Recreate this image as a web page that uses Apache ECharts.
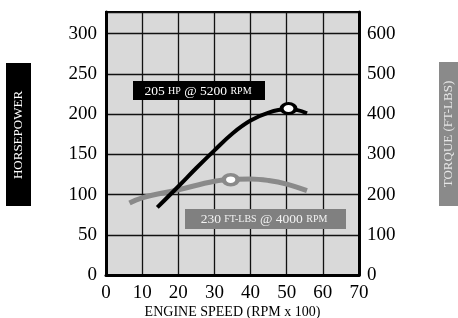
<!DOCTYPE html>
<html>
<head>
<meta charset="utf-8">
<script src="https://cdn.jsdelivr.net/npm/echarts@6/dist/echarts.min.js"></script>
<style>
  html, body { margin: 0; padding: 0; background: #fff; }
  #chart { width: 458px; height: 318px; }
</style>
</head>
<body>
<div id="chart"></div>
<script>
// horsepower curve (rpm x 100, hp)
var hpRpm = [14.2, 20, 25, 30, 35, 40, 45, 50, 53, 55.6];
var hpValues = [84, 110, 133, 155, 176, 192, 202, 206, 205, 201];

// torque curve (rpm x 100, ft-lbs)
var tqRpm = [6.5, 10, 20, 30, 35, 40, 45, 50, 55.6];
var tqValues = [179, 192, 212, 233, 238, 239, 235, 226, 210];

// peak markers
var hpPeak = [50.5, 207];
var tqPeak = [34.5, 237];

var xTicks = [0, 10, 20, 30, 40, 50, 60, 70];
var hpTicks = [0, 50, 100, 150, 200, 250, 300];
var tqTicks = [0, 100, 200, 300, 400, 500, 600];

var serif = '"Liberation Serif", "DejaVu Serif", serif';

function pairs(xs, ys) {
	var out = [];
	for (var i = 0; i < xs.length; i++) out.push([xs[i], ys[i]]);
	return out;
}

var chart = echarts.init(document.getElementById('chart'), null, { renderer: 'canvas' });

var option = {
	animation: false,
	backgroundColor: '#fff',
	grid: {
		left: 106, right: 99, top: 12, bottom: 43,
		outerBoundsMode: 'none',
		containLabel: false,
		show: true,
		backgroundColor: '#d9d9d9',
		borderColor: '#000',
		borderWidth: 2
	},
	xAxis: {
		type: 'value',
		min: 0, max: 70, interval: 10,
		name: 'ENGINE SPEED (RPM x 100)',
		nameLocation: 'middle',
		nameGap: 30,
		nameMoveOverlap: false,
		nameTextStyle: { fontFamily: serif, fontSize: 14, color: '#000' },
		axisLine: { lineStyle: { color: '#000', width: 3 } },
		axisTick: { show: false },
		axisLabel: {
			margin: 9,
			fontFamily: serif, fontSize: 19, color: '#000',
			formatter: function (v) { return xTicks.indexOf(v) >= 0 ? String(v) : ''; }
		},
		splitLine: { show: true, lineStyle: { color: '#111', width: 1.3 } }
	},
	yAxis: [{
		type: 'value',
		min: 0, max: 327, interval: 50,
		axisLine: { show: true, lineStyle: { color: '#000', width: 3 } },
		axisTick: { show: false },
		axisLabel: {
			margin: 9,
			fontFamily: serif, fontSize: 19, color: '#000',
			formatter: function (v) { return hpTicks.indexOf(v) >= 0 ? String(v) : ''; }
		},
		splitLine: { show: true, lineStyle: { color: '#111', width: 1.3 } }
	}, {
		type: 'value',
		position: 'right',
		min: 0, max: 654, interval: 100,
		axisLine: { show: true, lineStyle: { color: '#000', width: 3 } },
		axisTick: { show: false },
		axisLabel: {
			margin: 8,
			fontFamily: serif, fontSize: 19, color: '#000',
			formatter: function (v) { return tqTicks.indexOf(v) >= 0 ? String(v) : ''; }
		},
		splitLine: { show: false }
	}],
	series: [{
		name: 'Torque',
		type: 'line',
		yAxisIndex: 1,
		smooth: 0.4,
		symbol: 'none',
		lineStyle: { color: '#8a8a8a', width: 5 },
		data: pairs(tqRpm, tqValues),
		z: 3
	}, {
		name: 'Horsepower',
		type: 'line',
		yAxisIndex: 0,
		smooth: 0.4,
		symbol: 'none',
		lineStyle: { color: '#000', width: 4 },
		data: pairs(hpRpm, hpValues),
		z: 4
	}, {
		name: 'Torque peak',
		type: 'scatter',
		yAxisIndex: 1,
		symbol: 'circle',
		symbolSize: [14, 10],
		itemStyle: { color: '#fff', borderColor: '#8a8a8a', borderWidth: 4, opacity: 1 },
		data: [tqPeak],
		z: 5
	}, {
		name: 'HP peak',
		type: 'scatter',
		yAxisIndex: 0,
		symbol: 'circle',
		symbolSize: [14, 10],
		itemStyle: { color: '#fff', borderColor: '#000', borderWidth: 3.5, opacity: 1 },
		data: [hpPeak],
		z: 6
	}],
	graphic: [
		// left title box
		{ type: 'rect', left: 6, top: 63, shape: { width: 25, height: 143 }, style: { fill: '#000' }, z: 10 },
		{ type: 'text', x: 19, y: 135, rotation: Math.PI / 2,
		  style: { text: 'HORSEPOWER', fill: '#fff', font: '13px ' + serif, align: 'center', verticalAlign: 'middle' }, z: 11 },
		// right title box
		{ type: 'rect', left: 439, top: 62, shape: { width: 25, height: 144 }, style: { fill: '#8a8a8a' }, z: 10 },
		{ type: 'text', x: 449, y: 134, rotation: Math.PI / 2,
		  style: { text: 'TORQUE (FT-LBS)', fill: '#e6e6e6', font: '13px ' + serif, align: 'center', verticalAlign: 'middle' }, z: 11 },
		// hp annotation
		{ type: 'rect', left: 133, top: 81, shape: { width: 132, height: 19 }, style: { fill: '#000' }, z: 10 },
		{ type: 'text', x: 198, y: 91,
		  style: {
			text: '205 {s|HP} @ 5200 {s|RPM}',
			fill: '#fff', font: '13.5px ' + serif, align: 'center', verticalAlign: 'middle',
			rich: { s: { fontSize: 10, fontFamily: serif, fill: '#fff' } }
		  }, z: 11 },
		// torque annotation
		{ type: 'rect', left: 185, top: 209, shape: { width: 161, height: 20 }, style: { fill: '#808080' }, z: 10 },
		{ type: 'text', x: 264, y: 219,
		  style: {
			text: '230 {s|FT-LBS} @ 4000 {s|RPM}',
			fill: '#f2f2f2', font: '13.5px ' + serif, align: 'center', verticalAlign: 'middle',
			rich: { s: { fontSize: 10, fontFamily: serif, fill: '#f2f2f2' } }
		  }, z: 11 }
	]
};

chart.setOption(option);
</script>
</body>
</html>
